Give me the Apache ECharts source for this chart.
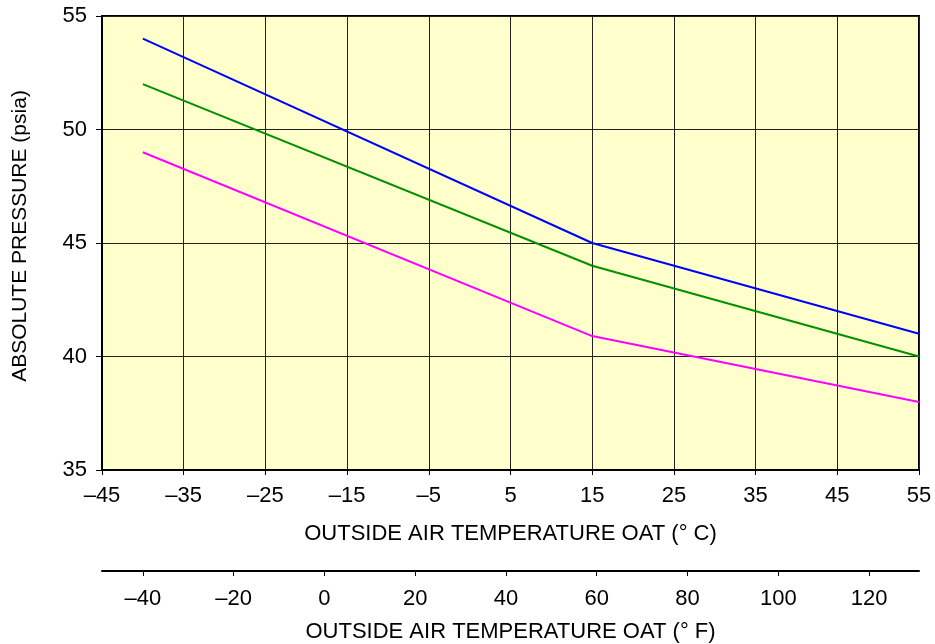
<!DOCTYPE html>
<html>
<head>
<meta charset="utf-8">
<script src="https://cdn.jsdelivr.net/npm/echarts@6/dist/echarts.min.js"></script>
<style>html,body{margin:0;padding:0;background:#fff}#c{width:935px;height:644px}</style>
</head>
<body>
<div id="c"></div>
<script>
const tempC = [-40, 15, 55];
const bluePsia = [54, 45, 41];
const greenPsia = [52, 44, 40];
const magentaPsia = [49, 40.9, 38];
const fahrenheitTicks = [-40, -20, 0, 20, 40, 60, 80, 100, 120];
const xTitleC = 'OUTSIDE AIR TEMPERATURE OAT (° C)';
const xTitleF = 'OUTSIDE AIR TEMPERATURE OAT (° F)';
const yTitle = 'ABSOLUTE PRESSURE (psia)';

const FONT = 'Liberation Sans, Arial, Helvetica, sans-serif';
const FS = 22;
const dash = v => String(v).replace('-', '\u2013');
const pairs = ys => tempC.map((x, i) => [x, ys[i]]);
const c2f = c => c * 9 / 5 + 32;

const chart = echarts.init(document.getElementById('c'), null, {renderer: 'canvas'});
chart.setOption({
  animation: false,
  backgroundColor: '#ffffff',
  grid: {left: 102, right: 16, top: 16, bottom: 174, show: true, containLabel: false,
         outerBoundsMode: 'none',
         backgroundColor: '#FFFFCC', borderColor: '#000', borderWidth: 2},
  xAxis: [{
    type: 'value', min: -45, max: 55, interval: 10, position: 'bottom',
    name: xTitleC, nameLocation: 'middle', nameGap: 53,
    nameTextStyle: {fontFamily: FONT, fontSize: FS, color: '#000'},
    axisLine: {show: true, onZero: false, lineStyle: {color: '#000', width: 2}},
    axisTick: {show: true, inside: false, length: 5, lineStyle: {color: '#000', width: 1}},
    axisLabel: {fontFamily: FONT, fontSize: FS, color: '#000', margin: 15, formatter: dash,
                showMinLabel: true, showMaxLabel: true},
    splitLine: {show: true, lineStyle: {color: '#222', width: 1}}
  }, {
    type: 'value', min: c2f(-45), max: c2f(55), position: 'bottom', offset: 101,
    name: xTitleF, nameLocation: 'middle', nameGap: 50,
    nameTextStyle: {fontFamily: FONT, fontSize: FS, color: '#000'},
    axisLine: {show: true, onZero: false, lineStyle: {color: '#000', width: 2}},
    axisTick: {show: true, length: 5, customValues: fahrenheitTicks, lineStyle: {color: '#000', width: 1}},
    axisLabel: {fontFamily: FONT, fontSize: FS, color: '#000', margin: 17, formatter: dash,
                customValues: fahrenheitTicks},
    splitLine: {show: false}
  }],
  yAxis: {
    type: 'value', min: 35, max: 55, interval: 5,
    name: yTitle, nameLocation: 'middle', nameGap: 71, nameRotate: 90,
    nameTextStyle: {fontFamily: FONT, fontSize: 21, color: '#000', padding: [0, 0, 0, 14]},
    axisLine: {show: true, onZero: false, lineStyle: {color: '#000', width: 2}},
    axisTick: {show: true, length: 6, lineStyle: {color: '#000', width: 1}},
    axisLabel: {fontFamily: FONT, fontSize: FS, color: '#000', margin: 15},
    splitLine: {show: true, lineStyle: {color: '#222', width: 1}}
  },
  series: [
    {type: 'line', xAxisIndex: 0, data: pairs(bluePsia), showSymbol: false, lineStyle: {color: '#0000FF', width: 2}},
    {type: 'line', xAxisIndex: 0, data: pairs(greenPsia), showSymbol: false, lineStyle: {color: '#009000', width: 2}},
    {type: 'line', xAxisIndex: 0, data: pairs(magentaPsia), showSymbol: false, lineStyle: {color: '#FF00FF', width: 2}}
  ]
});
</script>
</body>
</html>
